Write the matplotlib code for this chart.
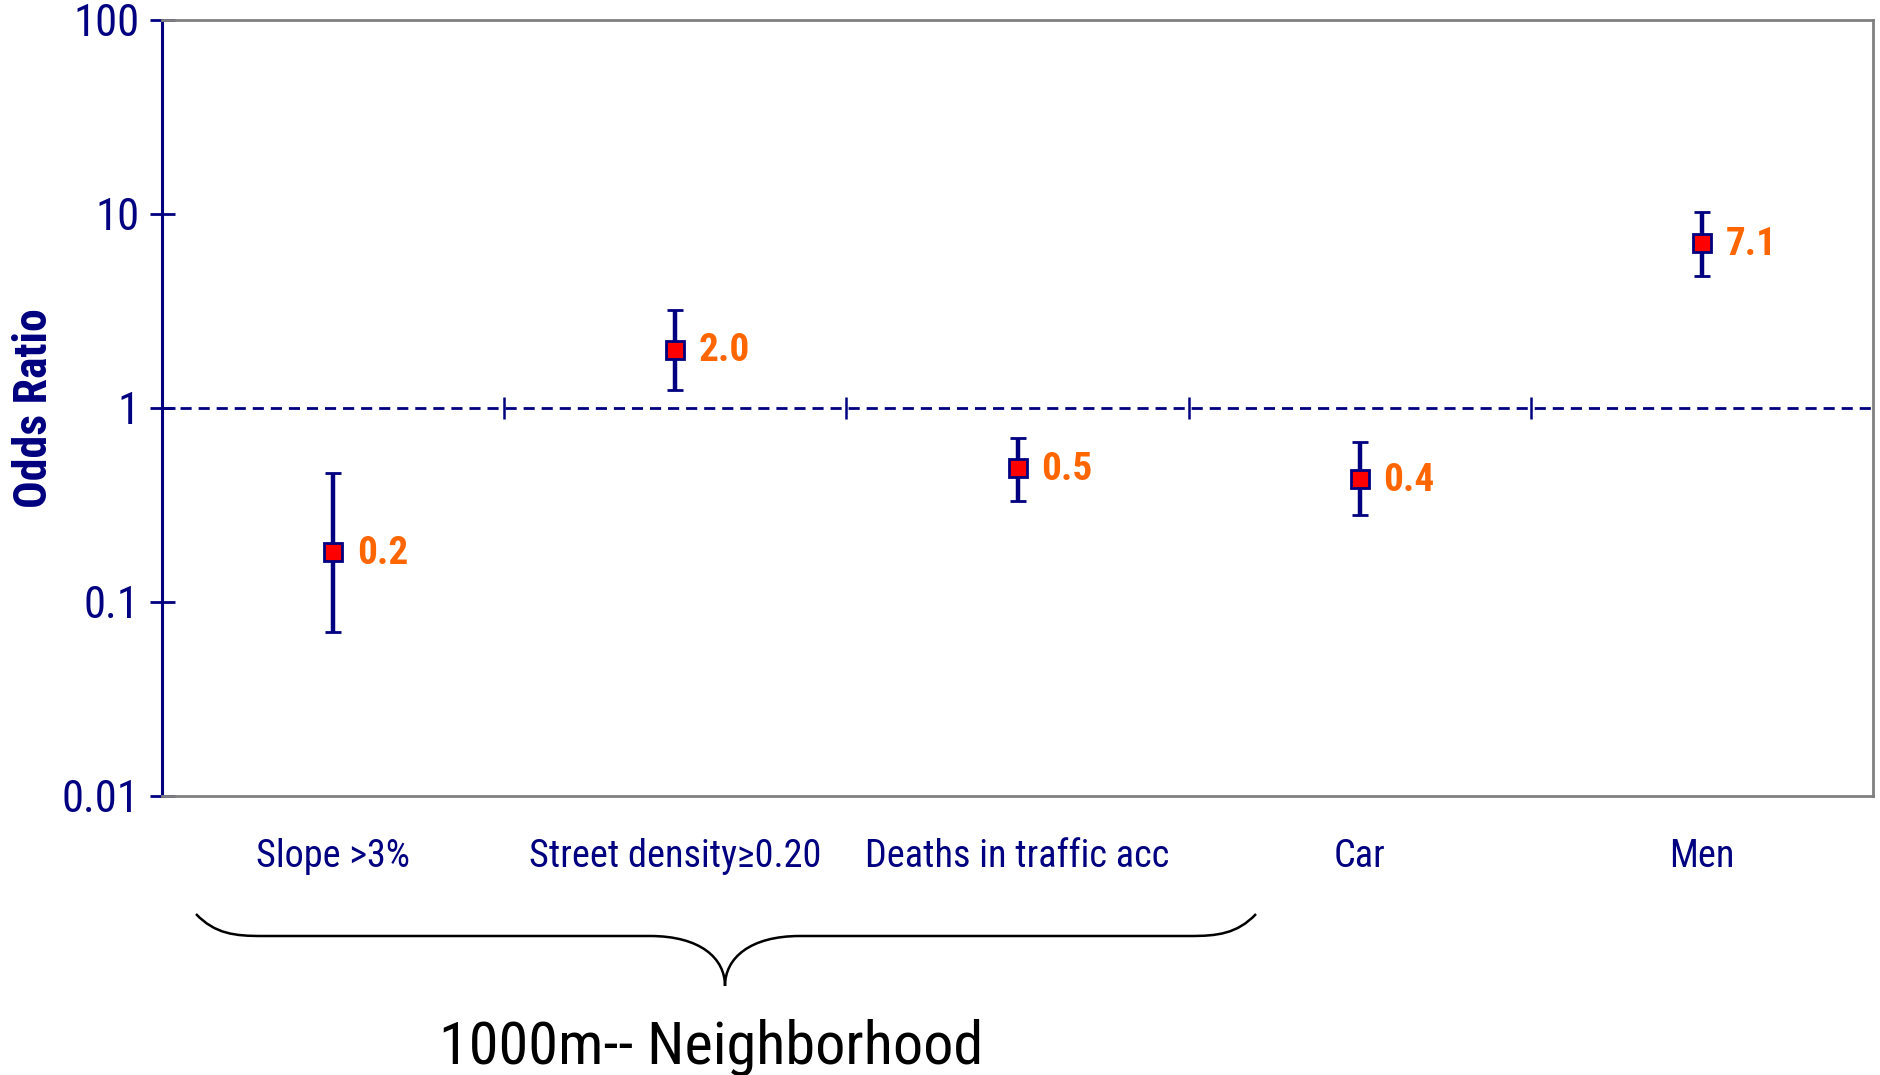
import matplotlib
matplotlib.use("Agg")
import matplotlib.pyplot as plt
from matplotlib.path import Path
from matplotlib.patches import PathPatch
from matplotlib.textpath import TextPath
from matplotlib.font_manager import FontProperties, fontManager
import numpy as np

# ---- data ----
categories = ["Slope >3%", "Street density\u22650.20", "Deaths in traffic acc", "Car", "Men"]
odds_ratio = [0.18, 2.0, 0.49, 0.43, 7.1]
ci_lower = [0.07, 1.24, 0.33, 0.28, 4.8]
ci_upper = [0.46, 3.2, 0.70, 0.67, 10.3]
ytick_values = [0.01, 0.1, 1, 10, 100]
ytick_labels = ["0.01", "0.1", "1", "10", "100"]
group_label = "1000m-- Neighborhood"

NAVY = "#000080"
ORANGE = "#FF6600"
GRAY = "#808080"


def weights_of(name):
    ws = set()
    for f in fontManager.ttflist:
        if f.name == name and f.style == 'normal':
            w = f.weight
            if isinstance(w, str):
                w = {'normal': 400, 'regular': 400, 'bold': 700}.get(w.lower(), 400)
            ws.add(int(w))
    return ws


narrow = "Liberation Sans"
for cand in ["Liberation Sans Narrow", "Arial Narrow", "Roboto Condensed",
             "Archivo Narrow", "PT Sans Narrow", "Fira Sans Condensed",
             "IBM Plex Sans Condensed"]:
    ws = weights_of(cand)
    if any(w <= 450 for w in ws) and any(w >= 650 for w in ws):
        narrow = cand
        break
FAM = [narrow, "Liberation Sans", "DejaVu Sans"]
plt.rcParams['font.family'] = FAM


def fit_size(text, target_px, weight='normal'):
    """font size (pt) so that the ink width of text is target_px at dpi 100"""
    tp = TextPath((0, 0), text, size=100,
                  prop=FontProperties(family=FAM, weight=weight))
    w = tp.get_extents().width
    return 100 * target_px * 0.72 / w


W, H = 1881, 1075
fig = plt.figure(figsize=(W / 100, H / 100), dpi=100)
ax = fig.add_axes([162 / W, 1 - 796 / H, (1873 - 162) / W, (796 - 20) / H])

x = np.arange(len(categories))
y = np.array(odds_ratio)
yerr = np.vstack([y - np.array(ci_lower), np.array(ci_upper) - y])

ax.set_yscale('log')
ax.set_ylim(ytick_values[0], ytick_values[-1])
ax.set_xlim(-0.5, len(categories) - 0.5)

# reference line (x-axis crossing at 1)
ax.axhline(1, color=NAVY, lw=2, ls=(0, (4, 2.5)), zorder=1)
bounds = np.arange(len(categories) - 1) + 0.5
ax.plot(bounds, np.ones_like(bounds), ls='none', marker='|', ms=16, mew=1.8,
        color=NAVY, zorder=1)

ax.errorbar(x, y, yerr=yerr, fmt='s', ms=12.5, mfc='#FF0000', mec=NAVY, mew=2,
            ecolor=NAVY, elinewidth=3.2, capsize=5.5, capthick=4, zorder=3)

fs_data = fit_size("2.0", 48, 'bold')
for xi, v in zip(x, odds_ratio):
    ax.annotate(f"{v:.1f}", (xi, v), xytext=(17, -1), textcoords='offset points',
                ha='left', va='center', color=ORANGE, fontsize=fs_data,
                fontweight='bold')

ax.set_yticks(ytick_values)
ax.set_yticklabels(ytick_labels)
ax.yaxis.set_minor_locator(matplotlib.ticker.NullLocator())
ax.tick_params(axis='y', direction='inout', length=18, width=2, color=NAVY,
               labelcolor=NAVY, labelsize=fit_size("100", 60), pad=7)

ax.set_xticks(x)
ax.set_xticklabels(categories)
ax.tick_params(axis='x', length=0, labelcolor=NAVY,
               labelsize=fit_size("Deaths in traffic acc", 300), pad=30)

ax.set_ylabel("Odds Ratio", color=NAVY, fontsize=fit_size("Odds Ratio", 196, 'bold'),
              fontweight='bold')
ax.yaxis.set_label_coords(-0.062, 0.5)

for s in ['top', 'right', 'bottom']:
    ax.spines[s].set_color(GRAY)
    ax.spines[s].set_linewidth(2)
ax.spines['left'].set_color(NAVY)
ax.spines['left'].set_linewidth(2.2)


# curly brace below the first three categories (figure pixel coordinates)
def P(px, py):
    return (px / W, 1 - py / H)


verts = [P(196, 914), P(215, 934), P(235, 936), P(262, 936),
         P(650, 936),
         P(700, 936), P(725, 958), P(725, 986),
         P(725, 958), P(750, 936), P(800, 936),
         P(1190, 936),
         P(1217, 936), P(1237, 934), P(1256, 914)]
codes = [Path.MOVETO, Path.CURVE4, Path.CURVE4, Path.CURVE4,
         Path.LINETO,
         Path.CURVE4, Path.CURVE4, Path.CURVE4,
         Path.CURVE4, Path.CURVE4, Path.CURVE4,
         Path.LINETO,
         Path.CURVE4, Path.CURVE4, Path.CURVE4]
brace = PathPatch(Path(verts, codes), transform=fig.transFigure, fill=False,
                  edgecolor='black', lw=1.8)
fig.patches.append(brace)

fig.text(711 / W, 1 - 1047 / H, group_label, ha='center', va='center',
         fontsize=fit_size(group_label, 535), color='black')

fig.savefig("out.png", dpi=100, facecolor='white')
